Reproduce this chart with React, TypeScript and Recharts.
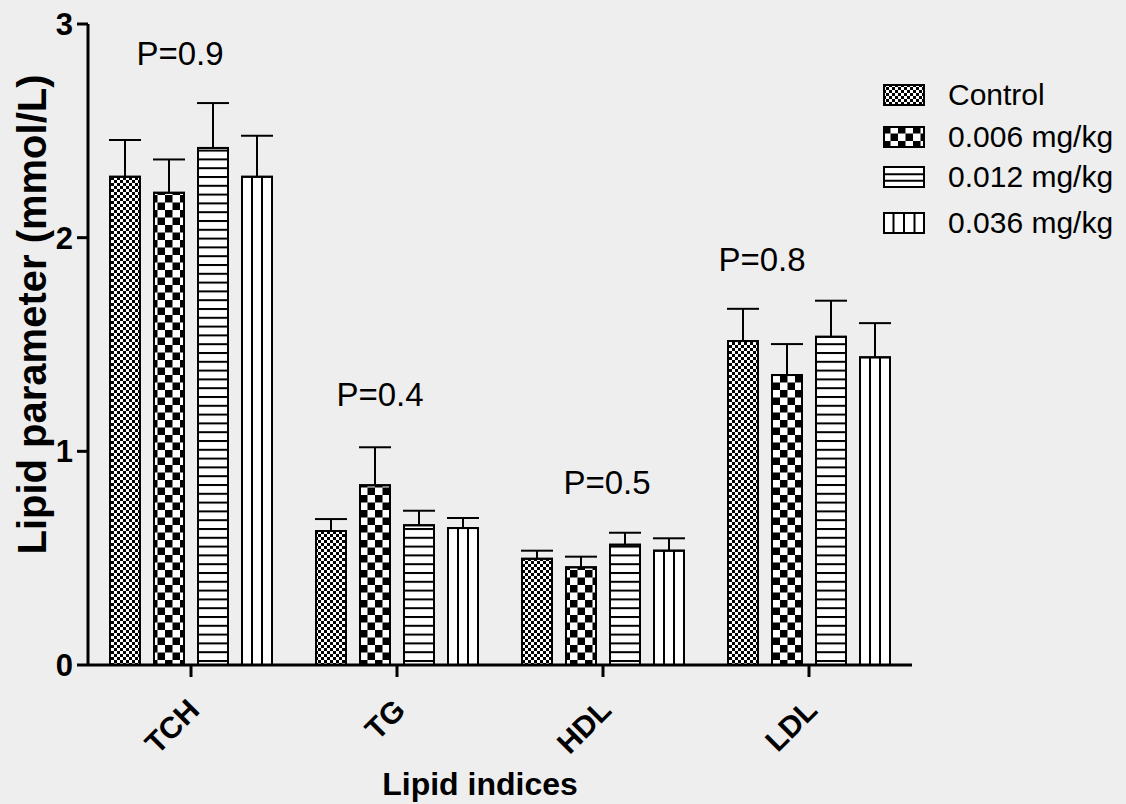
import { Bar, BarChart, ErrorBar, Legend, ReferenceDot, XAxis, YAxis } from "recharts";

const categories = ["TCH", "TG", "HDL", "LDL"];
const seriesNames = ["Control", "0.006 mg/kg", "0.012 mg/kg", "0.036 mg/kg"];

const controlMean = [2.285, 0.627, 0.497, 1.516];
const controlSem = [0.172, 0.056, 0.038, 0.151];
const dose006Mean = [2.21, 0.841, 0.457, 1.357];
const dose006Sem = [0.156, 0.178, 0.05, 0.145];
const dose012Mean = [2.42, 0.654, 0.563, 1.536];
const dose012Sem = [0.21, 0.068, 0.056, 0.169];
const dose036Mean = [2.285, 0.641, 0.535, 1.44];
const dose036Sem = [0.192, 0.047, 0.058, 0.16];

// p-value annotations: text, height (data units) and horizontal nudge
const pLabels = ["P=0.9", "P=0.4", "P=0.5", "P=0.8"];
const pLabelY = [2.864, 1.268, 0.856, 1.9];
const pLabelDx = [-11, -17, 4, -47];

const yTicks = [0, 1, 2, 3];

const data = categories.map((name, i) => ({
  name,
  control: controlMean[i],
  controlErr: [0, controlSem[i]],
  d006: dose006Mean[i],
  d006Err: [0, dose006Sem[i]],
  d012: dose012Mean[i],
  d012Err: [0, dose012Sem[i]],
  d036: dose036Mean[i],
  d036Err: [0, dose036Sem[i]],
}));

const FONT = "'Liberation Sans', Arial, Helvetica, sans-serif";
const BG = "#eeeeee";

const VStripeBar = (props: any) => {
  const { x, y, width, height } = props;
  if (!height || height <= 0) return null;
  return (
    <g>
      <rect x={x} y={y} width={width} height={height} fill="#fff" stroke="#000" strokeWidth={2} />
      <line x1={x + width / 3} x2={x + width / 3} y1={y} y2={y + height} stroke="#000" strokeWidth={2} />
      <line x1={x + (2 * width) / 3} x2={x + (2 * width) / 3} y1={y} y2={y + height} stroke="#000" strokeWidth={2} />
    </g>
  );
};

const XTick = (props: any) => {
  const { x, y, payload } = props;
  return (
    <g transform={`translate(${x},${y})`}>
      <text
        transform="translate(10,33) rotate(-45)"
        textAnchor="end"
        fontSize={30}
        fontWeight="bold"
        fill="#000"
        fontFamily={FONT}
      >
        {payload.value}
      </text>
    </g>
  );
};

const Swatch = ({ kind }: { kind: number }) => {
  const w = 42;
  const h = 22;
  if (kind === 0) return <svg width={w} height={h}><rect x={1} y={1} width={w - 2} height={h - 2} fill="url(#ctrlPat)" stroke="#000" strokeWidth={2} /></svg>;
  if (kind === 1) return <svg width={w} height={h}><rect x={1} y={1} width={w - 2} height={h - 2} fill="url(#chkPat)" stroke="#000" strokeWidth={2} /></svg>;
  if (kind === 2)
    return (
      <svg width={w} height={h}>
        <rect x={1} y={1} width={w - 2} height={h - 2} fill="#fff" stroke="#000" strokeWidth={2} />
        <line x1={1} x2={w - 1} y1={h / 3 + 1} y2={h / 3 + 1} stroke="#000" strokeWidth={2} />
        <line x1={1} x2={w - 1} y1={(2 * h) / 3} y2={(2 * h) / 3} stroke="#000" strokeWidth={2} />
      </svg>
    );
  return (
    <svg width={w} height={h}>
      <rect x={1} y={1} width={w - 2} height={h - 2} fill="#fff" stroke="#000" strokeWidth={2} />
      {[1, 2, 3].map((k) => (
        <line key={k} x1={(k * w) / 4} x2={(k * w) / 4} y1={1} y2={h - 1} stroke="#000" strokeWidth={2} />
      ))}
    </svg>
  );
};

const legendRowTops = [84, 126, 166, 212];

const LegendBox = () => (
  <div style={{ position: "relative", width: 1126, height: 260 }}>
    {seriesNames.map((name, i) => (
      <div
        key={name}
        style={{
          position: "absolute",
          left: 883,
          top: legendRowTops[i],
          height: 22,
          display: "flex",
          alignItems: "center",
          whiteSpace: "nowrap",
        }}
      >
        <Swatch kind={i} />
        <span style={{ marginLeft: 23, fontSize: 30, fontFamily: FONT, color: "#000", lineHeight: "22px" }}>{name}</span>
      </div>
    ))}
  </div>
);

const YLabel = (props: any) => {
  const vb = props.viewBox || { x: 28, y: 24, width: 60, height: 641 };
  const cx = vb.x + 18;
  const cy = vb.y + vb.height / 2 - 30;
  return (
    <text
      x={cx}
      y={cy}
      transform={`rotate(-90, ${cx}, ${cy})`}
      textAnchor="middle"
      fontSize={40}
      fontWeight="bold"
      fill="#000"
      fontFamily={FONT}
    >
      Lipid parameter (mmol/L)
    </text>
  );
};

const XLabel = (props: any) => {
  const vb = props.viewBox || { x: 88, y: 665, width: 824, height: 100 };
  return (
    <text
      x={vb.x + vb.width / 2 - 20}
      y={vb.y + 130}
      textAnchor="middle"
      fontSize={32}
      fontWeight="bold"
      fill="#000"
      fontFamily={FONT}
    >
      Lipid indices
    </text>
  );
};

export default function App() {
  return (
    <div style={{ position: "fixed", left: 0, top: 0, width: 1126, height: 804, background: BG, fontFamily: FONT }}>
      <BarChart
        width={1126}
        height={804}
        data={data}
        margin={{ top: 24, right: 214, bottom: 39, left: 28 }}
        barCategoryGap={22}
        barGap={14}
      >
        <defs>
          <pattern id="ctrlPat" patternUnits="userSpaceOnUse" width={6} height={6}>
            <rect width={6} height={6} fill="#fff" />
            <rect x={0} y={0} width={3} height={3} fill="#000" />
            <rect x={3} y={3} width={3} height={3} fill="#000" />
          </pattern>
          <pattern id="chkPat" patternUnits="userSpaceOnUse" width={15} height={15}>
            <rect width={15} height={15} fill="#fff" />
            <rect x={0} y={0} width={7.5} height={7.5} fill="#000" />
            <rect x={7.5} y={7.5} width={7.5} height={7.5} fill="#000" />
          </pattern>
          <pattern id="hPat" patternUnits="userSpaceOnUse" width={10} height={8.8}>
            <rect width={10} height={8.8} fill="#fff" />
            <rect x={0} y={0} width={10} height={2} fill="#000" />
          </pattern>
        </defs>
        <XAxis
          dataKey="name"
          height={100}
          tickSize={12}
          axisLine={{ stroke: "#000", strokeWidth: 3 }}
          tickLine={{ stroke: "#000", strokeWidth: 3 }}
          tick={<XTick />}
          interval={0}
          label={<XLabel />}
        />
        <YAxis
          width={60}
          domain={[0, 3]}
          ticks={yTicks}
          tickSize={11}
          tickMargin={4}
          axisLine={{ stroke: "#000", strokeWidth: 3 }}
          tickLine={{ stroke: "#000", strokeWidth: 3 }}
          tick={{ fill: "#000", fontSize: 31, fontWeight: "bold", fontFamily: FONT }}
          allowDataOverflow
          label={<YLabel />}
        />
        <Legend
          layout="vertical"
          align="center"
          verticalAlign="middle"
          wrapperStyle={{ left: 0, top: 0, width: 1126, height: 260 }}
          content={() => <LegendBox />}
        />
        <Bar dataKey="control" name={seriesNames[0]} fill="url(#ctrlPat)" stroke="#000" strokeWidth={2} isAnimationActive={false}>
          <ErrorBar dataKey="controlErr" width={16} stroke="#000" strokeWidth={2} direction="y" isAnimationActive={false} />
        </Bar>
        <Bar dataKey="d006" name={seriesNames[1]} fill="url(#chkPat)" stroke="#000" strokeWidth={2} isAnimationActive={false}>
          <ErrorBar dataKey="d006Err" width={16} stroke="#000" strokeWidth={2} direction="y" isAnimationActive={false} />
        </Bar>
        <Bar dataKey="d012" name={seriesNames[2]} fill="url(#hPat)" stroke="#000" strokeWidth={2} isAnimationActive={false}>
          <ErrorBar dataKey="d012Err" width={16} stroke="#000" strokeWidth={2} direction="y" isAnimationActive={false} />
        </Bar>
        <Bar dataKey="d036" name={seriesNames[3]} fill="#fff" shape={<VStripeBar />} isAnimationActive={false}>
          <ErrorBar dataKey="d036Err" width={16} stroke="#000" strokeWidth={2} direction="y" isAnimationActive={false} />
        </Bar>
        {categories.map((c, i) => (
          <ReferenceDot
            key={c}
            x={c}
            y={pLabelY[i]}
            r={0}
            fill="none"
            stroke="none"
            label={{ value: pLabels[i], position: "center", dx: pLabelDx[i], fontSize: 33, fill: "#000", fontFamily: FONT }}
          />
        ))}
      </BarChart>
    </div>
  );
}
